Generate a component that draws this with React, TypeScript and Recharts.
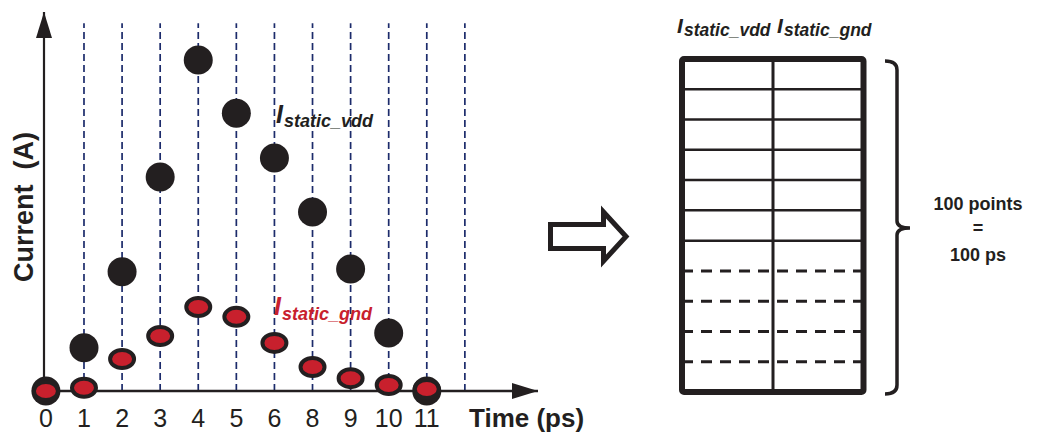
import React from 'react';
import { ScatterChart, Scatter, XAxis, YAxis, ReferenceLine } from 'recharts';

// time slots along the x axis (7 is skipped in the original figure, last slot has no label)
const TIME_LABELS = ['0', '1', '2', '3', '4', '5', '6', '8', '9', '10', '11', ''];
const SLOTS = [0, 1, 2, 3, 4, 5, 6, 7, 8, 9, 10, 11];
const DASHED_SLOTS = [1, 2, 3, 4, 5, 6, 7, 8, 9, 10, 11];

// current samples (arbitrary units)
const VDD = [0, 13.1, 36.2, 64.9, 100.4, 84.3, 70.7, 54.3, 37.0, 17.6, 0];
const GND = [0, 1.0, 9.7, 16.7, 25.5, 22.5, 14.6, 7.3, 3.9, 1.8, 0.6];

// right-hand table: 11 rows, first 7 drawn solid, last 4 dashed
const TABLE_ROWS = 11;
const SOLID_ROWS = 7;

const FONT = '"Liberation Sans", Arial, Helvetica, sans-serif';
const INK = '#231f20';
const RED = '#c8202d';
const NAVY = '#1c2b6b';

const vddData = VDD.map((v, i) => ({ t: i, v }));
const gndData = GND.map((v, i) => ({ t: i, v }));

const VddDot = (p: any) => <circle cx={p.cx} cy={p.cy} r={14.5} fill={INK} />;
const GndDot = (p: any) => (
  <ellipse cx={p.cx} cy={p.cy} rx={12} ry={9} fill={RED} stroke={INK} strokeWidth={4} />
);

const Diagram: React.FC = () => {
  const top = 59;
  const bottom = 392;
  const left = 682;
  const right = 863.5;
  const rowH = (bottom - top) / TABLE_ROWS;
  const rows = Array.from({ length: TABLE_ROWS - 1 }, (_, i) => i + 1);
  return (
    <svg width={1045} height={432} style={{ position: 'absolute', left: 0, top: 0, pointerEvents: 'none' }}>
      {/* axis titles */}
      <text transform="translate(33,207) rotate(-90)" textAnchor="middle" fontFamily={FONT}
        fontWeight="bold" fontSize={27} fill={INK} xmlSpace="preserve">Current  (A)</text>
      <text x={469} y={427} fontFamily={FONT} fontWeight="bold" fontSize={26} fill={INK}>Time (ps)</text>

      {/* series labels */}
      <g fontFamily={FONT} fontWeight="bold" fontStyle="italic">
        <text x={276} y={123} fontSize={25} fill={INK}>I</text>
        <text x={284} y={127} fontSize={18} fill={INK}>static_vdd</text>
        <text x={274} y={315} fontSize={25} fill={RED}>I</text>
        <text x={282} y={320} fontSize={18} fill={RED}>static_gnd</text>
      </g>

      {/* block arrow */}
      <polygon points="550.5,224.5 603.5,224.5 603.5,212 626,236.5 603.5,261 603.5,248.5 550.5,248.5"
        fill="#fff" stroke={INK} strokeWidth={5} />

      {/* table header */}
      <g fontFamily={FONT} fontWeight="bold" fontStyle="italic" fill={INK}>
        <text x={677} y={33} fontSize={21}>I</text>
        <text x={684} y={36} fontSize={17.5}>static_vdd</text>
        <text x={777} y={33} fontSize={21}>I</text>
        <text x={784} y={36} fontSize={17.5}>static_gnd</text>
      </g>

      {/* table */}
      {rows.map((r) => (
        <line key={r} x1={left} x2={right} y1={top + r * rowH} y2={top + r * rowH} stroke={INK}
          strokeWidth={r < SOLID_ROWS ? 2.5 : 3} strokeDasharray={r < SOLID_ROWS ? undefined : '11 8'} />
      ))}
      <line x1={773} x2={773} y1={top} y2={bottom} stroke={INK} strokeWidth={3} />
      <rect x={left} y={top} width={right - left} height={bottom - top} rx={2} fill="none" stroke={INK} strokeWidth={6} />

      {/* brace */}
      <path d="M885,61 Q897,61 897,70 L897,221 Q897,228 910,228 Q897,228 897,235 L897,385 Q897,394 885,394"
        fill="none" stroke={INK} strokeWidth={3.5} />
      <g fontFamily={FONT} fontWeight="bold" fontSize={18} fill={INK} textAnchor="middle">
        <text x={978} y={210}>100 points</text>
        <text x={978} y={234}>=</text>
        <text x={978} y={261}>100 ps</text>
      </g>
    </svg>
  );
};

export default function App() {
  return (
    <div style={{ position: 'absolute', left: 0, top: 0, width: 1045, height: 432, background: '#fff' }}>
      <ScatterChart width={560} height={432} margin={{ top: 12, right: 22, bottom: 0, left: 0 }}>
        <defs>
          <marker id="axisArrow" markerUnits="userSpaceOnUse" markerWidth={26} markerHeight={16}
            viewBox="0 0 26 16" refX={26} refY={8} orient="auto-start-reverse">
            <path d="M0,0 L26,8 L0,16 Z" fill={INK} />
          </marker>
        </defs>
        <XAxis
          dataKey="t"
          type="number"
          domain={[-0.05, 12.92]}
          ticks={SLOTS}
          interval={0}
          tickFormatter={(i: number) => TIME_LABELS[i] ?? ''}
          tickLine={false}
          tickSize={6}
          tickMargin={12}
          height={41}
          axisLine={{ stroke: INK, strokeWidth: 2.5, markerEnd: 'url(#axisArrow)' }}
          tick={{ fontSize: 25, fill: INK, fontFamily: FONT }}
        />
        <YAxis
          dataKey="v"
          type="number"
          domain={[0, 115]}
          width={44}
          tick={false}
          tickLine={false}
          axisLine={{ stroke: INK, strokeWidth: 2.2, markerStart: 'url(#axisArrow)' }}
        />
        {DASHED_SLOTS.map((s) => (
          <ReferenceLine key={s} segment={[{ x: s, y: 0 }, { x: s, y: 111.6 }]}
            stroke={NAVY} strokeWidth={1.7} strokeDasharray="7 4" />
        ))}
        <Scatter name="Istatic_vdd" data={vddData} shape={VddDot} isAnimationActive={false} />
        <Scatter name="Istatic_gnd" data={gndData} shape={GndDot} isAnimationActive={false} />
      </ScatterChart>
      <Diagram />
    </div>
  );
}
